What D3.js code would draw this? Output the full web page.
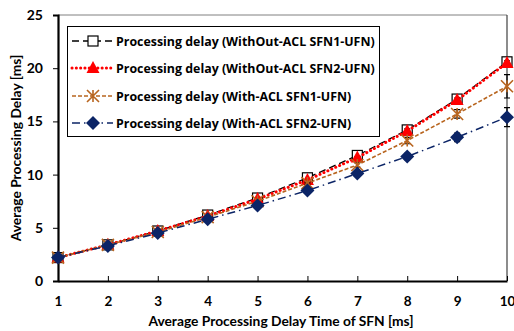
<!DOCTYPE html>
<html><head><meta charset="utf-8">
<script src="https://cdn.jsdelivr.net/npm/d3@7/dist/d3.min.js"></script>
<style>body{margin:0;background:#fff;} svg{display:block;} text{font-family:Lato,"Open Sans",sans-serif;font-weight:bold;}</style>
</head><body><svg id="c" width="514" height="331"></svg>
<script>
const xValues = [1,2,3,4,5,6,7,8,9,10];
const yTicks = [0,5,10,15,20,25];
const seriesNames = [
  "Processing delay (WithOut-ACL SFN1-UFN)",
  "Processing delay (WithOut-ACL SFN2-UFN)",
  "Processing delay (With-ACL SFN1-UFN)",
  "Processing delay (With-ACL SFN2-UFN)"
];
const withoutSfn1 = [2.2, 3.4, 4.7, 6.2, 7.8, 9.7, 11.8, 14.2, 17.1, 20.6];
const withoutSfn2 = [2.2, 3.4, 4.7, 6.1, 7.7, 9.5, 11.6, 14.1, 17.0, 20.5];
const withSfn1    = [2.2, 3.4, 4.6, 6.0, 7.5, 9.2, 10.9, 13.2, 15.7, 18.3];
const withSfn2    = [2.2, 3.3, 4.5, 5.8, 7.1, 8.5, 10.1, 11.7, 13.5, 15.4];
const errWithout1 = [0, 0, 0, 0, 0, 0, 0.1, 0.2, 0.2, 0.2];
const errWithout2 = [0, 0, 0, 0, 0, 0, 0.1, 0.2, 0.2, 0.2];
const errWith1    = [0, 0, 0, 0, 0, 0.1, 0.2, 0.3, 0.4, 1.1];
const errWith2    = [0, 0, 0, 0, 0, 0.1, 0.2, 0.3, 0.4, 0.9];

const svg = d3.select("#c");
const L=58, R=507, T=15, B=281;
const x = d3.scaleLinear().domain([1,10]).range([L,R]);
const y = d3.scaleLinear().domain([0,25]).range([B,T]);

// frame
svg.append("line").attr("x1",L).attr("x2",R).attr("y1",T).attr("y2",T).attr("stroke","#808080").attr("stroke-width",1);
svg.append("line").attr("x1",R).attr("x2",R).attr("y1",T).attr("y2",B).attr("stroke","#404040").attr("stroke-width",1.2);

// y axis
const ya = svg.append("g").attr("transform",`translate(${L},0)`)
  .call(d3.axisLeft(y).tickValues(yTicks).tickSize(5).tickPadding(10));
ya.select(".domain").attr("stroke","#000").attr("stroke-width",2.2);
ya.selectAll("text").attr("font-size",14).attr("fill","#000").style("font-family","Lato,sans-serif").style("font-weight","bold");
// x axis
const xa = svg.append("g").attr("transform",`translate(0,${B})`)
  .call(d3.axisBottom(x).tickValues(xValues).tickSize(0).tickPadding(15));
xa.select(".domain").attr("stroke","#000").attr("stroke-width",2.2);
xa.selectAll("text").attr("font-size",13.5).attr("fill","#000").style("font-family","Lato,sans-serif").style("font-weight","bold");
xa.selectAll(".tick").append("line").attr("y1",0).attr("y2",-5).attr("stroke","#000");

svg.append("text").attr("x",281).attr("y",326).attr("text-anchor","middle").attr("font-size",13.8).text("Average Processing Delay Time of SFN [ms]");
svg.append("text").attr("transform","translate(21,148) rotate(-90)").attr("text-anchor","middle").attr("font-size",13.8).text("Average Processing Delay [ms]");

const series = [
  {vals:withoutSfn1, err:errWithout1, color:"#000", dash:"7,4", width:1.3, marker:"square"},
  {vals:withoutSfn2, err:errWithout2, color:"#ff0000", dash:"0.1,4.2", width:3, cap:"round", marker:"triangle"},
  {vals:withSfn1, err:errWith1, color:"#b8651f", dash:"4,2", width:1.6, marker:"star"},
  {vals:withSfn2, err:errWith2, color:"#0b2466", dash:"8,4,1.5,4", width:1.5, marker:"diamond"}
];

function drawMarker(g, type, cx, cy, color){
  if(type==="square"){
    g.append("rect").attr("x",cx-5).attr("y",cy-5).attr("width",10).attr("height",10).attr("fill","#fff").attr("stroke","#000").attr("stroke-width",1.2);
  } else if(type==="triangle"){
    g.append("path").attr("d",`M${cx},${cy-7}L${cx+6.5},${cy+5}L${cx-6.5},${cy+5}Z`).attr("fill","#ff0000");
  } else if(type==="star"){
    const s=6;
    g.append("path").attr("d",`M${cx-s},${cy-s}L${cx+s},${cy+s}M${cx+s},${cy-s}L${cx-s},${cy+s}M${cx},${cy-s}L${cx},${cy+s}`)
      .attr("stroke",color).attr("stroke-width",1.6).attr("fill","none");
  } else if(type==="diamond"){
    g.append("path").attr("d",`M${cx},${cy-7}L${cx+7},${cy}L${cx},${cy+7}L${cx-7},${cy}Z`).attr("fill",color);
  }
}

series.forEach(s=>{
  const g = svg.append("g");
  const line = d3.line().x((d,i)=>x(xValues[i])).y(d=>y(d));
  g.append("path").datum(s.vals).attr("d",line).attr("fill","none").attr("stroke",s.color)
    .attr("stroke-width",s.width).attr("stroke-dasharray",s.dash).attr("stroke-linecap",s.cap||"butt");
  s.vals.forEach((v,i)=>{
    const e=s.err[i];
    if(e>0){
      const cx=x(xValues[i]);
      g.append("path").attr("d",`M${cx},${y(v-e)}L${cx},${y(v+e)}M${cx-3},${y(v-e)}L${cx+3},${y(v-e)}M${cx-3},${y(v+e)}L${cx+3},${y(v+e)}`)
        .attr("stroke","#000").attr("stroke-width",1.2);
    }
  });
  s.vals.forEach((v,i)=>drawMarker(g,s.marker,x(xValues[i]),y(v),s.color));
});

// legend
const lg = svg.append("g");
lg.append("rect").attr("x",67.5).attr("y",26.5).attr("width",312).attr("height",110).attr("fill","#fff").attr("stroke","#000").attr("stroke-width",1);
const rowsY=[41,68,96,123];
series.forEach((s,i)=>{
  const yy=rowsY[i];
  lg.append("path").attr("d",`M72,${yy}L113,${yy}`).attr("stroke",s.color).attr("stroke-width",s.width)
    .attr("stroke-dasharray",s.dash).attr("stroke-linecap",s.cap||"butt").attr("fill","none");
  drawMarker(lg,s.marker,93,yy,s.color);
  lg.append("text").attr("x",116).attr("y",yy+4.5).attr("font-size",12.4).style("font-family","'Open Sans',sans-serif").text(seriesNames[i]);
});
</script></body></html>
